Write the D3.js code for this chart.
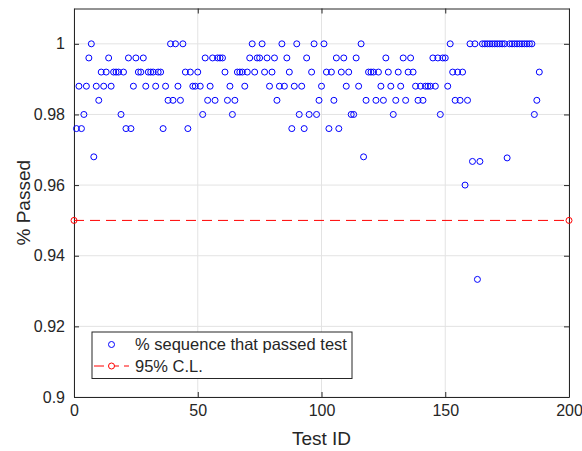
<!DOCTYPE html>
<html>
<head>
<meta charset="utf-8">
<script src="https://cdn.jsdelivr.net/npm/d3@7"></script>
<style>
    body { margin: 0; background: #fff; }
    text { font-family: "Liberation Sans", Arial, Helvetica, sans-serif; fill: #262626; }
</style>
</head>
<body>
<div id="chart"></div>
<script>
// data: one value per test ID (1..188)
var passedValues = [
    0.976, 0.988, 0.976, 0.98, 0.988, 0.996, 1.0, 0.968, 0.988, 0.984,
    0.992, 0.988, 0.992, 0.996, 0.988, 0.992, 0.992, 0.992, 0.98, 0.992,
    0.976, 0.996, 0.976, 0.988, 0.996, 0.992, 0.992, 0.996, 0.988, 0.992,
    0.992, 0.992, 0.988, 0.992, 0.992, 0.976, 0.988, 0.984, 1.0, 0.984,
    1.0, 0.988, 0.984, 1.0, 0.992, 0.976, 0.992, 0.988, 0.988, 0.992,
    0.988, 0.98, 0.996, 0.984, 0.988, 0.996, 0.984, 0.996, 0.996, 0.996,
    0.992, 0.984, 0.988, 0.98, 0.984, 0.992, 0.992, 0.992, 0.988, 0.992,
    0.996, 1.0, 0.992, 0.996, 0.996, 1.0, 0.992, 0.996, 0.988, 0.992,
    0.996, 0.984, 0.988, 1.0, 0.988, 0.996, 0.992, 0.976, 0.988, 1.0,
    0.98, 0.988, 0.976, 0.996, 0.98, 0.992, 1.0, 0.98, 0.984, 0.988,
    1.0, 0.992, 0.976, 0.992, 0.984, 0.996, 0.976, 0.992, 0.996, 0.988,
    0.992, 0.98, 0.98, 0.996, 0.988, 1.0, 0.968, 0.984, 0.992, 0.992,
    0.992, 0.984, 0.992, 0.988, 0.984, 0.996, 0.992, 0.988, 0.98, 0.984,
    0.992, 0.988, 0.996, 0.984, 0.992, 0.996, 0.992, 0.988, 0.984, 0.988,
    0.984, 0.988, 0.988, 0.988, 0.996, 0.988, 0.996, 0.98, 0.996, 0.996,
    0.988, 1.0, 0.992, 0.984, 0.992, 0.984, 0.992, 0.96, 0.984, 1.0,
    0.9667, 1.0, 0.9333, 0.9667, 1.0, 1.0, 1.0, 1.0, 1.0, 1.0,
    1.0, 1.0, 1.0, 1.0, 0.9677, 1.0, 1.0, 1.0, 1.0, 1.0,
    1.0, 1.0, 1.0, 1.0, 1.0, 0.98, 0.984, 0.992
];
var testIds = passedValues.map((v, i) => i + 1);

var clIds = [0, 200];
var clValues = [0.95, 0.95];

var xTicks = [0, 50, 100, 150, 200];
var yTicks = [0.9, 0.92, 0.94, 0.96, 0.98, 1];

var seriesNames = ["% sequence that passed test", "95% C.L."];

// define SVG parameters
var svgWidth = 582;
var svgHeight = 451;

var margin = {
    top: 8.5,
    right: 13,
    bottom: 54,
    left: 74
};

var width = svgWidth - margin.left - margin.right;
var height = svgHeight - margin.top - margin.bottom;

var markerR = 3;

var svg = d3.select("#chart")
    .append("svg")
    .attr("width", svgWidth)
    .attr("height", svgHeight);

svg.append("rect")
    .attr("width", svgWidth)
    .attr("height", svgHeight)
    .attr("fill", "#fff");

var chartGroup = svg.append("g")
    .attr("transform", `translate(${margin.left}, ${margin.top})`);

var xLinearScale = d3.scaleLinear().domain([0, 200]).range([0, width]);
var yLinearScale = d3.scaleLinear().domain([0.9, 1.01]).range([height, 0]);

// grid
chartGroup.append("g")
    .selectAll("line")
    .data(xTicks)
    .enter()
    .append("line")
    .attr("x1", d => xLinearScale(d))
    .attr("x2", d => xLinearScale(d))
    .attr("y1", 0)
    .attr("y2", height)
    .attr("stroke", "#e3e3e3")
    .attr("stroke-width", 1);

chartGroup.append("g")
    .selectAll("line")
    .data(yTicks)
    .enter()
    .append("line")
    .attr("x1", 0)
    .attr("x2", width)
    .attr("y1", d => yLinearScale(d))
    .attr("y2", d => yLinearScale(d))
    .attr("stroke", "#e3e3e3")
    .attr("stroke-width", 1);

// axes (ticks inward, mirrored on top and right)
var bottomAxis = d3.axisBottom(xLinearScale).tickValues(xTicks).tickSizeInner(-5).tickSizeOuter(0).tickPadding(8).tickFormat(d3.format("d"));
var leftAxis = d3.axisLeft(yLinearScale).tickValues(yTicks).tickSizeInner(-5).tickSizeOuter(0).tickPadding(9).tickFormat(d => d === 1 ? "1" : d3.format(".2~f")(d));
var topAxis = d3.axisTop(xLinearScale).tickValues(xTicks).tickSizeInner(-5).tickSizeOuter(0).tickFormat("");
var rightAxis = d3.axisRight(yLinearScale).tickValues(yTicks).tickSizeInner(-5).tickSizeOuter(0).tickFormat("");

var xAxis = chartGroup.append("g")
    .attr("transform", `translate(0, ${height})`)
    .call(bottomAxis);
var yAxis = chartGroup.append("g").call(leftAxis);
chartGroup.append("g").call(topAxis);
chartGroup.append("g").attr("transform", `translate(${width}, 0)`).call(rightAxis);

chartGroup.selectAll(".domain").attr("stroke", "#262626").attr("stroke-width", 1);
chartGroup.selectAll(".tick line").attr("stroke", "#262626");
chartGroup.selectAll(".tick text")
    .attr("font-size", 16)
    .attr("fill", "#262626")
    .style("font-family", "Liberation Sans, Arial, sans-serif");

// 95% C.L. line
var line = d3.line()
    .x(d => xLinearScale(d[0]))
    .y(d => yLinearScale(d[1]));

var clData = clIds.map((d, i) => [d, clValues[i]]);

chartGroup.append("path")
    .datum(clData)
    .attr("d", line)
    .attr("fill", "none")
    .attr("stroke", "#ff0000")
    .attr("stroke-width", 1)
    .attr("stroke-dasharray", "10,6");

chartGroup.selectAll(".cl-marker")
    .data(clData)
    .enter()
    .append("circle")
    .attr("class", "cl-marker")
    .attr("cx", d => xLinearScale(d[0]))
    .attr("cy", d => yLinearScale(d[1]))
    .attr("r", markerR)
    .attr("fill", "none")
    .attr("stroke", "#ff0000")
    .attr("stroke-width", 1);

// test points
var circlesGroup = chartGroup.selectAll(".pt")
    .data(testIds)
    .enter()
    .append("circle")
    .attr("class", "pt")
    .attr("cx", d => xLinearScale(d))
    .attr("cy", (d, i) => yLinearScale(passedValues[i]))
    .attr("r", markerR)
    .attr("fill", "none")
    .attr("stroke", "#0000ff")
    .attr("stroke-width", 1);

// axis labels
chartGroup.append("text")
    .attr("x", width / 2)
    .attr("y", height + 48)
    .attr("text-anchor", "middle")
    .attr("font-size", 19)
    .text("Test ID");

chartGroup.append("text")
    .attr("transform", "rotate(-90)")
    .attr("x", -height / 2)
    .attr("y", -44)
    .attr("text-anchor", "middle")
    .attr("font-size", 19)
    .text("% Passed");

// legend
var legend = svg.append("g")
    .attr("transform", "translate(92, 332)");

legend.append("rect")
    .attr("width", 260)
    .attr("height", 46.5)
    .attr("fill", "#fff")
    .attr("stroke", "#262626")
    .attr("stroke-width", 1);

legend.append("circle")
    .attr("cx", 19.5)
    .attr("cy", 12.5)
    .attr("r", markerR)
    .attr("fill", "none")
    .attr("stroke", "#0000ff")
    .attr("stroke-width", 1);

legend.append("line")
    .attr("x1", 2)
    .attr("x2", 37)
    .attr("y1", 34)
    .attr("y2", 34)
    .attr("stroke", "#ff0000")
    .attr("stroke-width", 1)
    .attr("stroke-dasharray", "10,5");

legend.append("circle")
    .attr("cx", 19.5)
    .attr("cy", 34)
    .attr("r", markerR)
    .attr("fill", "#fff")
    .attr("stroke", "#ff0000")
    .attr("stroke-width", 1);

legend.selectAll(".legend-text")
    .data(seriesNames)
    .enter()
    .append("text")
    .attr("class", "legend-text")
    .attr("x", 43)
    .attr("y", (d, i) => 18 + i * 21.5)
    .attr("font-size", 16.5)
    .attr("fill", "#000")
    .text(d => d);
</script>
</body>
</html>
